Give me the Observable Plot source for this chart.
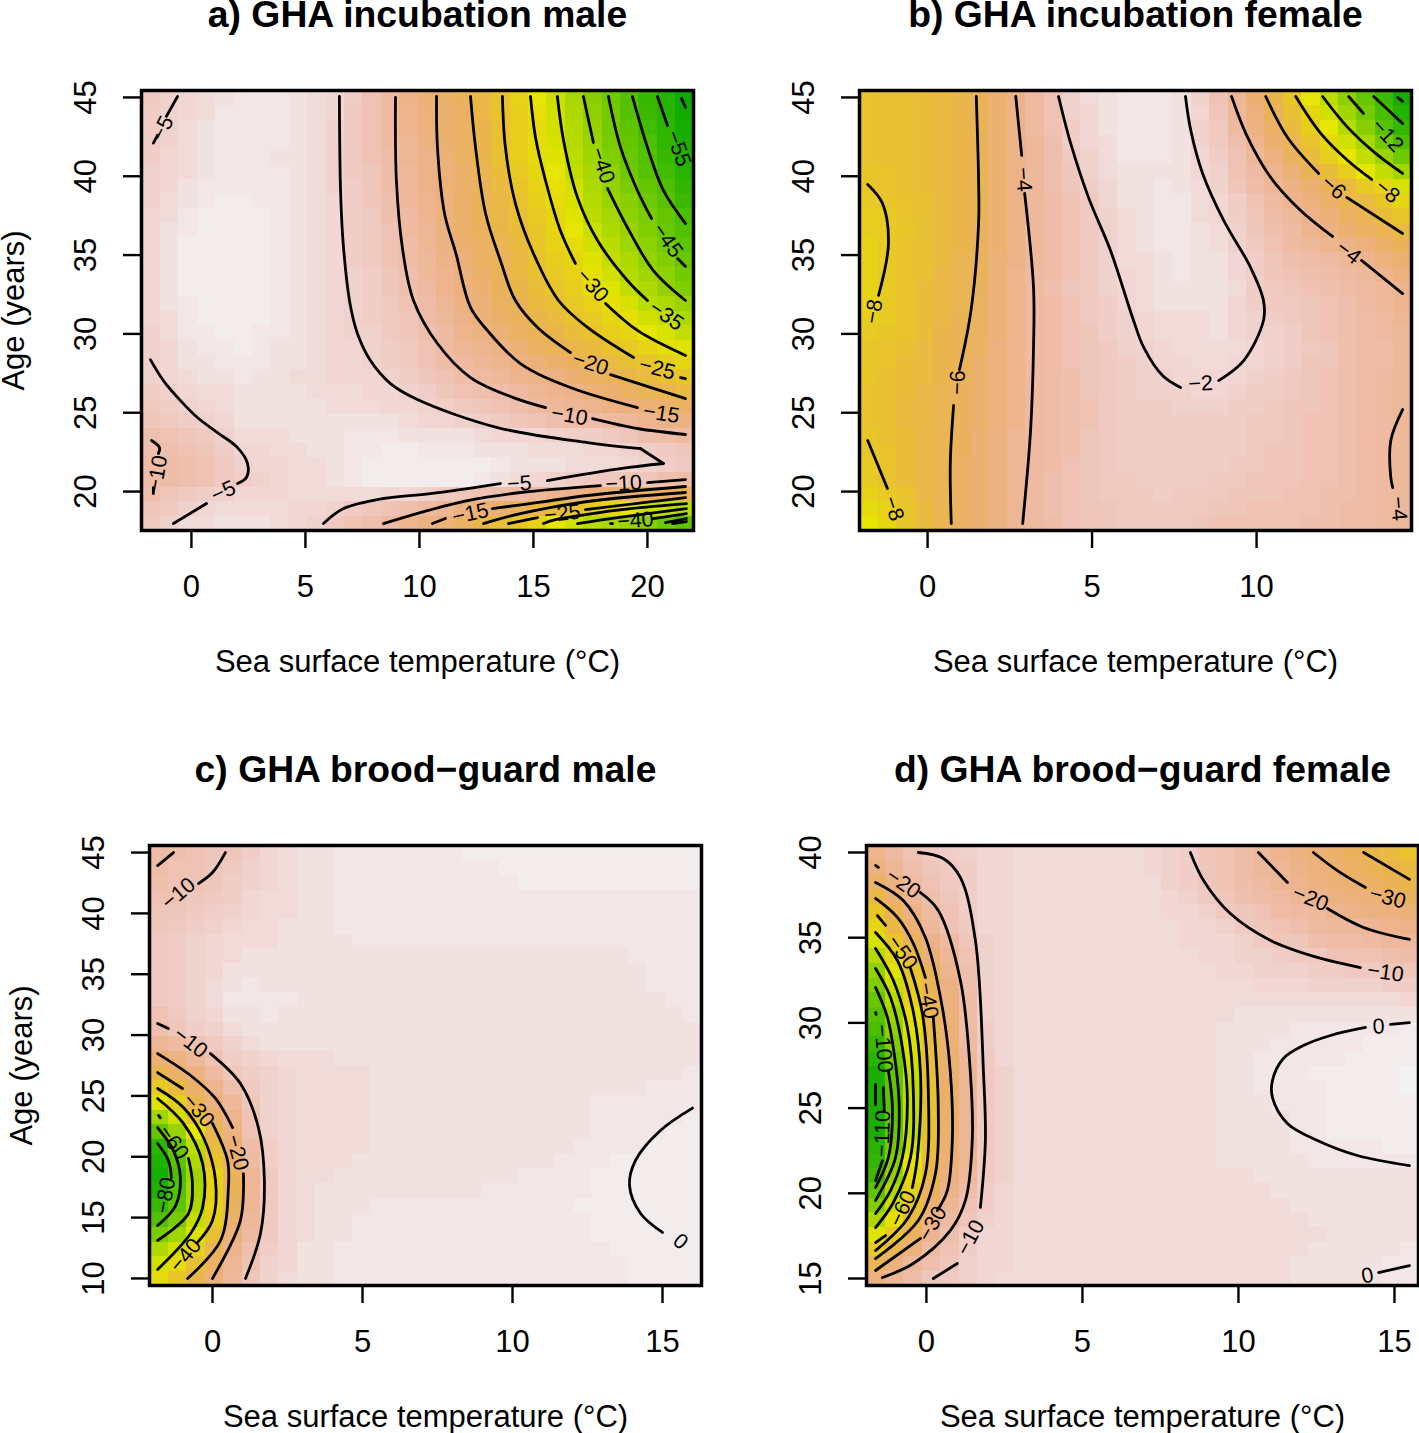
<!DOCTYPE html>
<html><head><meta charset="utf-8">
<script src="https://cdn.jsdelivr.net/npm/d3@7"></script>
<script src="https://cdn.jsdelivr.net/npm/@observablehq/plot@0.6"></script>
<style>
html,body{margin:0;padding:0;background:#fff}
#page{position:relative;width:1419px;height:1433px;overflow:hidden}
#page svg{position:absolute;font-family:"Liberation Sans",Helvetica,Arial,sans-serif;background:transparent}
</style></head><body><div id="page"></div>
<script>
const xLabel = "Sea surface temperature (°C)";
const yLabel = "Age (years)";

// ---------- panel a ----------
const aTitle = "a) GHA incubation male";
const aXTicks = [0,5,10,15,20];
const aYTicks = [20,25,30,35,40,45];
const aXDomain = [-2.19,22.02];
const aYDomain = [17.53,45.44];
const aColorDomain = [-62,-0.5];
const aX = [-2.2,0,2,4,6,8,10,12,14,16,18,20,22.02];
const aY = [45.44,41,37,33,30,27,25,23.5,22,20.8,19.8,19,18.3,17.53];
const aZ = [
[-7,-4,-2,-2,-4,-8,-15,-19,-27,-35,-44,-53,-62],
[-6,-3.5,-2,-2.5,-4.5,-8,-13,-18,-26,-32,-41,-49,-58],
[-5,-1.4,-0.9,-2,-4,-7,-11.5,-17.5,-23,-29,-36.7,-43,-51],
[-5,-1.2,-0.8,-2,-4,-6,-10,-15,-20,-26,-31,-38,-44.5],
[-5.5,-2,-1,-2.5,-4,-5.5,-8,-13,-17,-21.5,-26.3,-31,-35.5],
[-6,-3.5,-2.5,-3,-4,-4.7,-6.5,-9.5,-11.5,-14,-18.5,-22,-26],
[-8,-5,-2.8,-2.8,-3,-3.3,-4.5,-6,-8,-10.5,-12.5,-14.5,-16.5],
[-9,-7.5,-4,-3.5,-2.5,-2,-2.5,-3,-4,-4.7,-6,-8.5,-10.5],
[-10,-9,-5.5,-4,-3,-1.5,-1,-1.5,-2,-2.5,-2.8,-4,-6],
[-10,-9,-6,-4,-3,-1.5,-1,-1,-3.5,-5,-6.5,-7.5,-10],
[-9,-6.5,-4,-4,-4,-4,-4.5,-8,-9.5,-13,-16,-18.5,-21],
[-8,-5,-3.5,-4,-4.8,-7.5,-9,-14,-17,-23,-27,-33,-36],
[-8,-4,-3,-3.5,-6,-9,-13.5,-18,-24,-30,-36,-39,-46],
[-7,-3,-1.5,-3,-5.5,-9.5,-14,-19,-26,-33,-40,-47,-54]];
const aContours = [
[-0.61,45.06,-1.1,43.8],[-1.49,42.6,-1.67,42.1],
[-1.8,28.37,-1.23,27.04,-0.48,25.77,0.26,24.7,1.14,23.74,2.02,22.79,2.46,21.78,2.41,20.89,2.02,20.51],
[0.66,19.24,-0.79,17.97],
[-1.75,23.24,-1.4,22.79,-1.45,22.41],[-1.67,20.25,-1.67,19.87],
[6.49,45.06,6.54,39.1,6.67,35.48,6.97,31.8,7.28,30.03,7.85,28.31,8.73,26.85,9.91,25.84,13.42,24.06,17.37,23.11,19.69,22.73],
[19.69,22.73,20.7,21.78],[20.7,21.78,18.82,21.46,15.61,20.7],
[13.55,20.51,10.48,19.87,8.42,19.56,6.67,18.92,5.79,17.97],
[8.95,45,8.99,39.73,9.25,35.48,9.74,32.12,10.79,29.39,12.24,27.23,14.12,25.96,15.53,25.33],
[17.59,24.63,19.56,24,21.67,23.62],
[10.75,45.06,10.79,41.83,11.1,37.64,11.6,35.1,12.24,31.68,12.98,30.22,14.43,28.12,16.62,26.6,19.56,25.33],
[12.24,45.06,12.46,41.83,12.9,37.64,13.55,34.66,14.21,32.12,15.18,30.41,16.62,28.82],
[18.38,27.42,21.67,25.9],
[13.64,45.06,13.77,41.83,14.21,38.27,15,35.1,16.1,32.12,17.37,30.41,19.39,28.5],[21.45,27.23,21.67,27.17],
[14.87,45.06,15.09,42.46,15.53,39.73,16.18,36.56,16.84,34.47],[18.16,31.93,19.56,30.22,21.67,28.63],
[16.05,45.06,16.32,42.27,16.93,38.66,17.81,35.93,19.12,33.39,20,32.12],
[17.19,45.06,17.63,42.14],[18.25,39.23,19.12,36.75,20.26,34.02,21.67,32.12],
[18.29,45.06,18.82,41.83,19.56,39.1,20.18,37.32],[21.32,34.79,21.67,34.28],
[19.34,45.06,20,41.83,20.7,39.1,21.67,37],
[20.44,45.06,20.88,43.22],[21.49,44.94,21.67,44.37],
[8.42,17.97,10.04,18.67,12.11,19.43,14.43,19.94,17.94,20.38],[20,20.57,21.67,20.76],
[10.57,17.97,11.14,18.29],[13.2,18.92,15.3,19.33,17.37,19.75,21.67,20.32],
[12.81,17.97,14.43,18.6,17.37,19.37,21.67,19.94],
[13.9,17.97,15.18,18.35],[17.28,18.86,21.67,19.62],
[15.44,17.97,15.96,18.22,17.28,18.54,19.25,18.92,21.71,19.24],
[16.93,17.97,18.68,18.35,21.71,18.92],
[18.38,17.97,18.47,17.97],[20.26,18.29,21.71,18.6],
[20.79,18.03,21.71,18.29],[21.1,17.97,21.71,18.1]];
const aLabels = [
["−5",-1.27,43.03,-63],["−10",-1.49,21.14,-80],["−5",1.4,20,-25],["−5",14.38,20.51,-3],
["−10",18.95,20.51,-3],["−10",16.58,24.82,10],["−15",20.61,24.95,9],["−20",17.5,28.12,18],
["−25",20.43,27.8,15],["−35",20.83,31.17,35],["−30",17.59,33.07,48],["−40",18.03,40.69,72],
["−45",20.88,35.93,55],["−55",21.36,41.76,70],["−15",12.24,18.6,-12],["−25",16.27,18.6,-6],["−40",19.47,18.16,-4]];

// ---------- panel b ----------
const bTitle = "b) GHA incubation female";
const bXTicks = [0,5,10];
const bYTicks = [20,25,30,35,40,45];
const bXDomain = [-2.07,14.71];
const bYDomain = [17.53,45.44];
const bColorDomain = [-17,-1];
const bX = [-2.07,0,1.5,3,4.5,6,7.5,9,10.5,12,13,14,14.71];
const bY = [45.44,43,41,39,37,35,33,29,25,21,17.53];
const bZ = [
[-7.5,-7,-6,-4,-2,-1.3,-1.3,-3.3,-6.5,-10,-12.5,-15,-17],
[-7.5,-7,-6,-4,-2.2,-1.4,-1.4,-2.8,-5.5,-8.6,-10.8,-13.8,-15.5],
[-7.5,-7,-6,-4,-2.5,-1.5,-1.5,-2.5,-4.5,-7.5,-9.2,-11.3,-13],
[-7.8,-7,-6,-4,-2.8,-1.6,-1.4,-2.2,-3.8,-5.4,-6.8,-8,-9.3],
[-8.2,-7.2,-6,-4,-3,-1.8,-1.4,-2,-3.2,-4.6,-5.6,-6.8,-7.6],
[-8.3,-7.1,-5.9,-3.9,-2.9,-1.9,-1.4,-1.7,-2.9,-3.6,-3.9,-5,-5.6],
[-8.5,-7,-5.8,-3.8,-2.8,-2,-1.5,-1.6,-2.7,-3.1,-3.4,-3.9,-4.5],
[-7.8,-6.8,-5.6,-3.8,-3,-2.3,-1.9,-1.7,-2.1,-2.8,-3.2,-3.5,-3.8],
[-7.5,-6.5,-5.4,-3.8,-3.1,-2.5,-2.3,-2.3,-2.6,-3,-3.3,-3.7,-4],
[-8,-6.5,-5.3,-3.6,-3,-2.5,-2.4,-2.5,-2.8,-3,-3.3,-3.7,-4],
[-9.5,-6.6,-5.2,-3.7,-3,-2.7,-2.7,-3,-3,-3.2,-3.4,-3.7,-3.8]];
const bContours = [
[-1.82,39.48,-1.37,38.27,-1.19,35.74,-1.49,32.44],
[-1.82,23.24,-1.22,20.19],
[1.48,45.06,1.55,39.73,1.55,37,1.32,31.49,0.97,27.74],[0.79,25.46,0.69,21.78,0.72,17.97],
[2.68,45.06,2.86,41.32],[2.95,38.91,3.22,32.94,3.22,29.14,3.13,23.87,2.89,17.97],
[3.98,45.06,4.35,42.08,4.89,38.66,5.56,35.29,6.26,30.85,6.57,29.14,7.14,27.36,7.69,26.6],
[8.85,27.04,9.61,28.31,10.21,30.85,10.21,32.12,9.82,34.21,9,37.2,8.36,40.18,8,42.91,7.84,45.06],
[9.24,45.06,9.73,42.46,10.43,39.92,11.34,37.83,12.31,36.18],[13.19,34.66,14.44,32.56],
[10.28,45.06,10.94,42.46,11.89,40.18],[12.74,38.66,14.44,36.37],
[11.19,45.06,11.95,42.72,12.77,41,13.5,39.8],
[12.01,45.06,12.77,43.1,13.62,41.45,14.44,40.18],
[12.8,45.06,13.25,43.98],
[13.56,45.06,14.44,43.35],
[14.29,45,14.44,44.75],
[14.44,25.2,14.08,23.24,14.08,20.9,14.14,20.25]];
const bLabels = [
["−8",-1.64,31.42,-80],["−8",-1.03,18.92,72],["−6",0.91,26.92,-88],["−4",2.92,39.8,86],
["−2",8.3,26.85,-3],["−4",12.8,35.17,38],["−6",12.34,39.29,42],["−8",13.98,39.04,40],
["−12",13.98,42.59,48],["−4",14.32,18.92,85]];

// ---------- panel c ----------
const cTitle = "c) GHA brood−guard male";
const cXTicks = [0,5,10,15];
const cYTicks = [10,15,20,25,30,35,40,45];
const cXDomain = [-2.1,16.3];
const cYDomain = [9.42,45.58];
const cColorDomain = [-90,1];
const cX = [-2.1,-1.5,-1,-0.5,0,0.5,1,1.5,2,3,5,8,11,14,16.3];
const cY = [45.58,42,38,33,30,27,24,21,18,15,12,9.42];
const cZ = [
[-14,-12,-11,-10,-9.5,-9.5,-8,-6.5,-5,-3,-1,-0.7,-0.7,-0.7,-0.7],
[-11,-11,-10.5,-10,-9,-7.5,-6,-5,-4,-3,-1,-0.8,-0.7,-0.7,-0.7],
[-8,-8,-6.5,-6,-4.5,-4,-3.5,-3.5,-3,-2.5,-1.8,-1.8,-1.8,-1.8,-1.5],
[-9,-8,-6.5,-5,-4,-1.5,-1.2,-1.2,-1.5,-2,-2.5,-2.5,-2.5,-2,-1.5],
[-13,-11,-9.5,-7.5,-6,-4.5,-3,-2.5,-2,-2.5,-2.5,-2.5,-2.5,-2.5,-2],
[-32,-27,-22,-18,-13.5,-10,-7.5,-6,-5,-4,-3,-2.5,-2.5,-2.3,-1.7],
[-52,-47,-40,-30,-23,-18,-11,-8,-5,-4,-3,-2.5,-2,-1.5,-0.5],
[-84,-74,-62,-50,-33,-24,-16,-10,-6,-4,-3,-2.5,-2.3,-0.8,0],
[-90,-81,-68,-55,-42,-31,-20,-13,-7,-3.5,-2.5,-2.2,-1.5,0,0.5],
[-75,-68,-61,-50,-40,-27,-19,-12,-7,-3.5,-1.5,-1.5,-1.2,-0.3,0],
[-53,-49,-43,-36,-28,-19,-13,-9,-6,-3,-1,-1,-1,-0.7,-0.5],
[-42,-38,-32,-26,-20,-15,-11,-7,-5,-2.5,-1,-1,-1,-0.7,-0.7]];
const cContours = [
[-1.83,43.93,-1.3,45],
[-0.47,42.45,0,43.36,0.43,45],
[-1.83,30.95,-1.47,30.54],[-0.07,28.48,0.93,26.02,1.53,22.4,1.73,18.05,1.6,13.69,1.1,10],
[-1.83,28.48,-0.73,26.68,0.1,24.79,0.67,22.4],[1.03,18.62,0.93,14.76,0,10],
[-1.83,26.92,-1,25.61],[0,22.74,0.5,19.7,0.53,17.47,0.27,13.12,-0.83,10],
[-1.83,25.61,-0.97,24.05,-0.3,21.58,0.1,18.05,0,14.76,-0.5,12.96],
[-1.83,24.79,-0.97,22.74,-0.33,19.45,-0.33,15.83,-0.73,13.69,-1.83,10.74],
[-1.8,23.4,-1.74,23.2],[-0.8,19.86,-0.67,17.8,-0.8,15.34,-1.83,13.12],
[-1.83,22.4,-1.3,20.51,-1.07,18.29,-1.23,15.99,-1.83,14.35],
[-1.83,21.09,-1.47,19.7,-1.37,18.29],
[16,24,14.93,22.16,14.1,19.7,13.9,17.65,14.27,15.34,15,13.78]];
const cLabels = [
["−10",-1.13,41.63,-40],["−10",-0.73,29.39,38],["−20",0.83,20.35,75],["−30",-0.47,23.8,50],
["−40",-0.9,11.89,-50],["−60",-1.3,21.17,55],["−80",-1.57,16.82,-80],["0",15.6,13.04,40]];

// ---------- panel d ----------
const dTitle = "d) GHA brood−guard female";
const dXTicks = [0,5,10,15];
const dYTicks = [15,20,25,30,35,40];
const dXDomain = [-1.92,15.77];
const dYDomain = [14.59,40.41];
const dColorDomain = [-125,3];
const dX = [-1.92,-1.5,-1,-0.5,0,0.5,1,1.5,2,3,5,7,9,11,13,15.77];
const dY = [40.41,38,36,33,30,27,24,21,18,16,14.59];
const dZ = [
[-19,-18,-15,-12,-9.5,-8,-7,-6,-5,-4,-3,-4,-11,-21,-33,-52],
[-40,-33,-27,-18.5,-14,-11,-10,-6.5,-5,-4,-3,-3,-11,-19,-27,-41],
[-62,-50,-39,-29,-20.5,-14,-10.5,-7,-5,-4,-3,-3,-6,-13,-20,-27],
[-90,-77,-62,-50,-39,-26,-21,-11,-5,-4,-3,-3,-4,-6,-8.5,-11.5],
[-107,-97,-78,-63,-45,-32,-23,-12,-6,-4,-3,-3,-3,-1.5,-0.5,0.5],
[-122,-112,-92,-70,-50,-36,-26,-18,-8,-4,-3.5,-3.5,-3,-0.5,1,2.5],
[-124,-113,-94,-72,-52,-37,-27,-19,-8,-4,-3.5,-3.5,-3,-1.5,1,2],
[-112,-100,-78,-60,-43,-31,-24,-18,-8,-4,-3.5,-3.5,-3,-2.5,-1.5,-1],
[-74,-66,-55,-42,-27,-19,-12,-7.5,-5,-4,-3.5,-3,-3,-3,-2.5,-1.5],
[-43,-38,-28,-21,-16,-12.5,-10,-6,-4.5,-4,-3,-3,-3,-3,-2,0],
[-22,-21,-17.5,-14,-11,-8.5,-7,-5,-4,-3,-2.5,-3,-3,-3,-2,-0.5]];
const dContours = [
[-0.26,40,0.54,39.65,1.09,38.53,1.57,34.84,1.83,27.03,1.89,23.1,1.73,19.17],[0.99,15.88,0.22,15],
[-1.63,39.24,-1.54,39.12],
[-0.19,37.65,0.38,36.6,1.09,32.49,1.41,27.03,1.47,23.1,1.25,19.58,0.77,17.82,-0.42,15.88,-1.41,15.06],
[-1.63,38.24,-0.74,37.18,-0.03,35,0.51,30.9,0.77,27.03,0.83,23.1,0.67,20.16,0.35,18.99],[-0.19,17.35,-1.63,15.47],
[-1.63,37.3,-0.93,36.19,-0.42,34.66,-0.03,32.66],[0.22,30.32,0.38,25.03,0.29,21.16,-0.26,18.4,-1.63,16.17],
[-1.57,36.3,-1.31,35.72],[-0.51,33.19,-0.13,30.55,0.06,26.03,-0.03,21.16,-0.58,18.58,-1.63,16.64],
[-1.63,35.3,-0.93,33.66,-0.45,30.9,-0.19,27.03,-0.29,22.1,-0.45,20.34],[-1.31,17.52,-1.63,17.11],
[-1.63,34.37,-1.06,32.49,-0.61,29.73,-0.42,26.03,-0.51,22.1,-1.06,19.46,-1.63,17.99],
[-1.63,33.19,-1.15,31.49,-0.77,28.56,-0.61,25.45,-0.77,22.1,-1.15,20.16,-1.63,18.81],
[-1.63,32.08,-1.25,30.32,-0.99,27.62,-0.87,25.03,-0.99,22.1,-1.63,19.58],
[-1.63,30.61,-1.61,30.5],[-1.22,27.21,-1.09,25.03,-1.22,22.1,-1.63,20.34],
[-1.38,26.21,-1.35,24.86],[-1.41,21.92,-1.63,20.75],
[-1.63,26.38,-1.63,25.2],
[8.46,40,8.88,38.36,9.74,36.42,11.03,34.84,12.53,33.84,13.91,33.25],
[10.64,40,11.57,38.24],[12.85,36.71,14.01,35.6,15.48,34.9],
[12.4,40,13.17,38.94,14.07,37.95],
[14.01,40,15.48,38.42],
[15.48,30.02,14.87,29.91],
[14.07,29.73,12.95,29.26,12.08,28.67,11.44,27.91,11.09,26.62,11.09,25.62,11.57,24.1,12.53,23.1,13.81,22.22,15.48,21.63],
[14.49,15.35,15.48,15.76]];
const dLabels = [
["−10",1.41,17.4,-62],["−20",-0.74,38.18,35],["−30",0.19,18.22,-60],["−40",0.06,31.31,80],
["−50",-0.77,34.13,55],["−60",-0.77,19.11,-65],["−100",-1.38,28.5,85],["−110",-1.41,23.51,-88],
["−10",14.71,32.96,8],["−20",12.31,37.3,22],["−30",14.78,37.36,15],["0",14.49,29.79,-3],["0",14.13,15.17,-10]];

// R terrain.colors ramp, stepped like a palette of discrete colours
function terrain(t0){
  const t=Math.round(t0*80)/80;
  let h,s,v;
  if(t<0.5){const u=t/0.5;h=120-60*u;s=1;v=0.65+0.25*u;}
  else{const u=(t-0.5)/0.5;h=60-60*u;s=1-u;v=0.9+0.05*u;}
  const f=(n)=>{const k=(n+h/60)%6;return v-v*s*Math.max(0,Math.min(k,4-k,1));};
  return `rgb(${Math.round(f(5)*255)},${Math.round(f(3)*255)},${Math.round(f(1)*255)})`;
}

function panel(o){
  const samples=o.gridZ.flatMap((row,i)=>row.map((z,j)=>({x:o.gridX[j],y:o.gridY[i],z})));
  const lines=o.contours.flatMap((c,k)=>d3.range(0,c.length,2).map(i=>({k,x:c[i],y:c[i+1]})));
  const marks=[
    Plot.raster(samples,{x:"x",y:"y",fill:"z",width:30,height:30,interpolate:"barycentric",imageRendering:"pixelated"}),
    Plot.line(lines,{x:"x",y:"y",z:"k",curve:"catmull-rom",stroke:"black",strokeWidth:2.8}),
    Plot.text(o.labels,{x:d=>d[1],y:d=>d[2],text:d=>d[0],rotate:d=>d[3],fontSize:21.5,fill:"black"}),
    Plot.frame({stroke:"black",strokeWidth:3.5}),
    Plot.axisX(o.xTicks,{anchor:"bottom",tickSize:18,tickPadding:26,fontSize:31,label:null,strokeWidth:2.4,lineAnchor:"top"}),
    Plot.axisY(o.yTicks,{anchor:"left",tickSize:18,tickPadding:37,fontSize:31,label:null,strokeWidth:2.4,tickRotate:-90,textAnchor:"middle",lineAnchor:"middle"}),
    Plot.text([o.title],{frameAnchor:"top",dy:-75,fontSize:37.3,fontWeight:"bold",lineAnchor:"middle",fill:"black"}),
    Plot.text([xLabel],{frameAnchor:"bottom",dy:132,fontSize:31,lineAnchor:"middle",fill:"black"})
  ];
  if(o.yLabel) marks.push(Plot.text([o.yLabel],{frameAnchor:"left",dx:-127,rotate:-90,textAnchor:"middle",fontSize:31,lineAnchor:"middle",fill:"black"}));
  const svg=Plot.plot({
    width:o.width,height:o.height,marginLeft:141,marginTop:90,marginRight:o.marginRight,marginBottom:o.marginBottom,
    style:{background:"transparent",fontFamily:'"Liberation Sans",Helvetica,Arial,sans-serif',overflow:"visible"},
    x:{domain:o.xDomain,label:null},y:{domain:o.yDomain,label:null},
    color:{type:"linear",domain:o.colorDomain,interpolate:terrain,clamp:true},
    marks
  });
  svg.style.left=o.left+"px";svg.style.top=o.top+"px";
  document.getElementById("page").appendChild(svg);
}
panel({title:aTitle,yLabel,xTicks:aXTicks,yTicks:aYTicks,xDomain:aXDomain,yDomain:aYDomain,colorDomain:aColorDomain,gridX:aX,gridY:aY,gridZ:aZ,contours:aContours,labels:aLabels,left:0,top:0,width:709,height:716,marginRight:16,marginBottom:186});
panel({title:bTitle,xTicks:bXTicks,yTicks:bYTicks,xDomain:bXDomain,yDomain:bYDomain,colorDomain:bColorDomain,gridX:bX,gridY:bY,gridZ:bZ,contours:bContours,labels:bLabels,left:718,top:0,width:701,height:716,marginRight:8,marginBottom:186});
panel({title:cTitle,yLabel,xTicks:cXTicks,yTicks:cYTicks,xDomain:cXDomain,yDomain:cYDomain,colorDomain:cColorDomain,gridX:cX,gridY:cY,gridZ:cZ,contours:cContours,labels:cLabels,left:8,top:755,width:701,height:678,marginRight:8,marginBottom:148});
panel({title:dTitle,xTicks:dXTicks,yTicks:dYTicks,xDomain:dXDomain,yDomain:dYDomain,colorDomain:dColorDomain,gridX:dX,gridY:dY,gridZ:dZ,contours:dContours,labels:dLabels,left:725,top:755,width:694,height:678,marginRight:1,marginBottom:148});
</script></body></html>
